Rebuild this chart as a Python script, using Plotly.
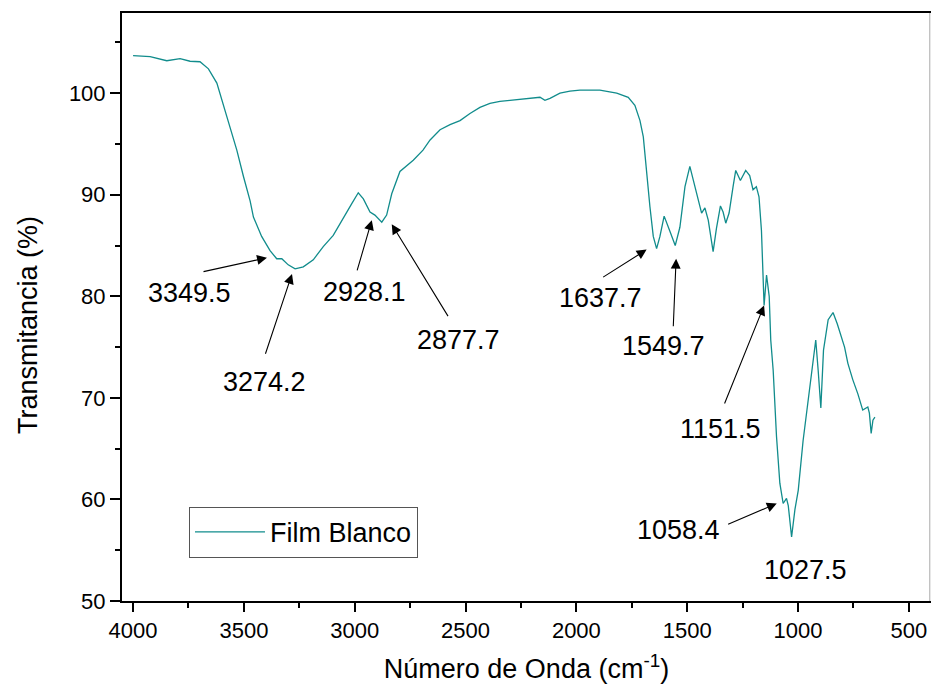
import plotly.graph_objects as go

wavenumber = [4000, 3950, 3923, 3848, 3788, 3743, 3698, 3660, 3622, 3577, 3532, 3502, 3472,
              3457, 3420, 3382, 3352, 3329, 3300, 3269, 3232, 3187, 3142, 3097, 3051, 3014,
              2984, 2961, 2931, 2909, 2878, 2856, 2833, 2796, 2736, 2692, 2660, 2615, 2570,
              2525, 2480, 2435, 2390, 2345, 2300, 2254, 2209, 2164, 2142, 2119, 2074, 2029,
              1984, 1894, 1818, 1766, 1736, 1713, 1698, 1683, 1668, 1653, 1638, 1623, 1604,
              1578, 1554, 1533, 1510, 1488, 1465, 1448, 1435, 1420, 1405, 1383, 1368, 1350,
              1338, 1326, 1311, 1293, 1281, 1260, 1236, 1218, 1203, 1188, 1176, 1165, 1158,
              1153, 1142, 1130, 1123, 1112, 1097, 1082, 1067, 1052, 1044, 1029, 1014, 999,
              977, 954, 939, 920, 909, 897, 885, 864, 842, 823, 790, 775, 753, 730, 708, 685,
              678, 670, 662, 653]
transmittance = [103.7, 103.6, 103.6, 103.2, 103.4, 103.15, 103.1, 102.4, 101.0, 97.7, 94.4, 91.8, 89.4,
                 87.8, 85.9, 84.5, 83.7, 83.7, 83.1, 82.7, 82.9, 83.6, 84.9, 86.0, 87.8, 89.1,
                 90.2, 89.6, 88.3, 88.0, 87.3, 88.0, 90.1, 92.3, 93.4, 94.4, 95.4, 96.4, 96.9,
                 97.3, 98.0, 98.6, 99.0, 99.2, 99.3, 99.4, 99.5, 99.6, 99.3, 99.5, 100.0, 100.2,
                 100.3, 100.3, 100.0, 99.6, 98.8, 97.3, 95.7, 92.1, 88.8, 85.9, 84.7, 85.9, 87.9,
                 86.4, 85.0, 86.8, 90.8, 92.8, 90.8, 89.6, 88.2, 88.7, 87.5, 84.4, 86.7, 88.9,
                 88.3, 87.2, 88.2, 90.8, 92.4, 91.4, 92.4, 91.9, 90.5, 90.8, 89.8, 86.5, 81.6,
                 79.1, 82.1, 80.0, 75.7, 72.7, 66.2, 61.6, 59.6, 60.1, 59.4, 56.3, 59.0, 60.9,
                 65.8, 69.8, 72.1, 75.7, 72.7, 69.0, 74.7, 77.7, 78.4, 77.3, 75.0, 73.4, 71.8, 70.4, 68.8, 69.1,
                 68.5, 66.5, 67.8, 68.1]

peak_labels = ["3349.5", "3274.2", "2928.1", "2877.7", "1637.7", "1549.7", "1151.5", "1058.4", "1027.5"]
# arrow head (wavenumber, %T)
head_x = [3396, 3283, 2923, 2833, 1683, 1550, 1153, 1096, None]
head_y = [83.8, 82.2, 87.5, 87.1, 84.6, 83.7, 79.1, 59.6, None]
# arrow tail (wavenumber, %T)
tail_x = [3689, 3405, 2991, 2575, 1886, 1563, 1334, 1322, None]
tail_y = [82.4, 74.2, 82.4, 77.9, 81.8, 76.9, 69.3, 57.5, None]
# label centre (wavenumber, %T)
label_x = [3745, 3405, 2958, 2530, 1893, 1609, 1349, 1538, 965]
label_y = [80.3, 71.6, 80.4, 75.7, 79.8, 75.1, 66.9, 57.0, 53.1]

FONT = "Liberation Sans, Arial, sans-serif"
TEAL = "#118c8c"

fig = go.Figure()
fig.add_trace(go.Scatter(x=wavenumber, y=transmittance, mode="lines",
                         line=dict(color=TEAL, width=1.3), name="Film Blanco"))

annotations = []
for i, lab in enumerate(peak_labels):
    if head_x[i] is not None:
        annotations.append(dict(x=head_x[i], y=head_y[i], ax=tail_x[i], ay=tail_y[i],
                                xref="x", yref="y", axref="x", ayref="y", text="",
                                showarrow=True, arrowhead=2, arrowsize=1.8, arrowwidth=1.1,
                                arrowcolor="black", standoff=0, startstandoff=0))
    annotations.append(dict(x=label_x[i], y=label_y[i], xref="x", yref="y", text=lab,
                            showarrow=False, xanchor="center", yanchor="middle",
                            font=dict(family=FONT, size=27, color="black")))

# y-axis title placed as annotation (sits slightly below the plot centre in the reference)
annotations.append(dict(x=-0.1165, y=0.469, xref="paper", yref="paper", text="Transmitancia (%)",
                        textangle=-90, showarrow=False, xanchor="center", yanchor="middle",
                        font=dict(family=FONT, size=27, color="black")))

fig.update_layout(
    width=931, height=692,
    margin=dict(l=122, r=0, t=13, b=91),
    paper_bgcolor="white", plot_bgcolor="white",
    font=dict(family=FONT, color="black"),
    showlegend=True,
    legend=dict(x=0.0828, y=0.1603, xanchor="left", yanchor="top",
                bordercolor="#555555", borderwidth=1, bgcolor="white",
                font=dict(family=FONT, size=27), itemwidth=70,
                tracegroupgap=0),
    annotations=annotations,
    shapes=[dict(type="line", xref="paper", yref="paper", x0=0.9985, x1=0.9985, y0=0, y1=1,
                 line=dict(color="#aaaaaa", width=1))],
)
fig.update_xaxes(range=[4050, 400], showgrid=False, zeroline=False,
                 showline=True, linecolor="black", linewidth=2, mirror=True,
                 ticks="outside", ticklen=9, tickwidth=2, tickcolor="black",
                 tickvals=[4000, 3500, 3000, 2500, 2000, 1500, 1000, 500],
                 tickfont=dict(family=FONT, size=22),
                 minor=dict(ticks="outside", ticklen=5, tickwidth=2, tickcolor="black", dtick=250, tick0=0),
                 title=dict(text="Número de Onda (cm<sup>-1</sup>)", font=dict(family=FONT, size=27), standoff=17))
fig.update_yaxes(range=[50, 107.9], showgrid=False, zeroline=False,
                 showline=True, linecolor="black", linewidth=2,
                 ticks="outside", ticklen=10, tickwidth=2, tickcolor="black",
                 tickvals=[50, 60, 70, 80, 90, 100],
                 tickfont=dict(family=FONT, size=22),
                 minor=dict(ticks="outside", ticklen=5, tickwidth=2, tickcolor="black", dtick=5, tick0=0))

fig.write_html("out.html")
